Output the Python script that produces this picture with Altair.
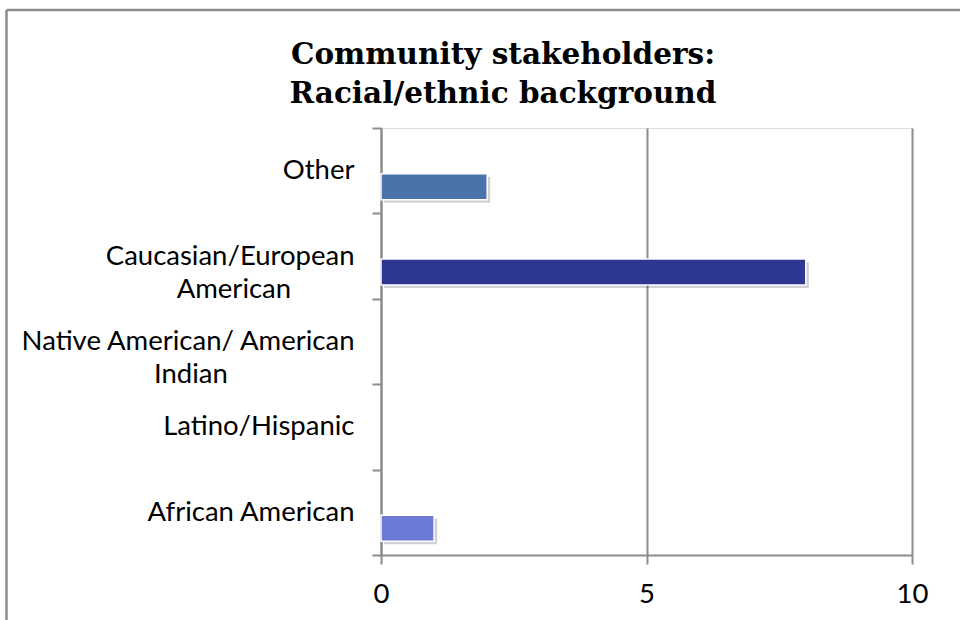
import altair as alt
import pandas as pd

categories = ["Other", "Caucasian/European American", "Native American/ American Indian",
              "Latino/Hispanic", "African American"]
counts = [2, 8, 0, 0, 1]
bar_colors = ["#4A74A9", "#2E3790", "#5A6FCF", "#5A6FCF", "#6C79D5"]
x_ticks = [0, 5, 10]
title_lines = ["Community stakeholders:", "Racial/ethnic background"]

NB = "\u00a0"
WJ = "\u2060"
label_lines = {
    "Caucasian/European American": ["Caucasian/European", "American" + NB * 9 + WJ],
    "Native American/ American Indian": ["Native American/ American", "Indian" + NB * 18 + WJ],
}

df = pd.DataFrame({"category": categories, "count": counts})

expr = "datum.value"
for k, v in label_lines.items():
    arr = "[" + ",".join("'" + s + "'" for s in v) + "]"
    expr = f"datum.value == '{k}' ? {arr} : ({expr})"

GRAY = "#8c8c8c"
FONT = "Lato"

y_enc = alt.Y("category:N", sort=categories,
              scale=alt.Scale(domain=categories, paddingInner=0, paddingOuter=0),
              axis=alt.Axis(title=None, domainColor=GRAY, domainWidth=2,
                            tickColor=GRAY, tickWidth=2, tickSize=9, tickBand="extent",
                            labelFont=FONT, labelFontSize=27.5, labelColor="black",
                            labelPadding=18, labelLineHeight=33, labelExpr=expr,
                            labelLimit=0, grid=False))
x_enc = alt.X("count:Q", scale=alt.Scale(domain=[0, 10], nice=False),
              axis=alt.Axis(title=None, values=x_ticks, domainColor=GRAY, domainWidth=2,
                            tickColor=GRAY, tickWidth=2, tickSize=9, labelFlush=False,
                            labelFont=FONT, labelFontSize=27.5, labelColor="black",
                            labelPadding=16, grid=True, gridColor=GRAY, gridWidth=2))

base = alt.Chart(df).transform_filter(alt.datum.count > 0)

shadow = base.mark_bar(height=26, yOffset=19, xOffset=3, color="#000000", opacity=0.18).encode(
    x=x_enc, y=y_enc)

bars = base.mark_bar(height=26, yOffset=16, stroke="white", strokeWidth=1.5).encode(
    x=x_enc, y=y_enc,
    color=alt.Color("category:N", scale=alt.Scale(domain=categories, range=bar_colors), legend=None))

frame_data = alt.Data(values=[{"k": 1}])
frame_top = alt.Chart(frame_data).mark_rule(color=GRAY, strokeWidth=2.5).encode(
    x=alt.value(-374.5), x2=alt.value(640), y=alt.value(-118))
frame_left = alt.Chart(frame_data).mark_rule(color=GRAY, strokeWidth=2.5).encode(
    x=alt.value(-374.5), y=alt.value(-118), y2=alt.value(520))

title_style = dict(font="DejaVu Serif", fontSize=29.5, fontWeight="bold", color="black",
                   align="center", baseline="alphabetic")
title1 = alt.Chart(frame_data).mark_text(**title_style).encode(
    x=alt.value(122), y=alt.value(-64), text=alt.value(title_lines[0]))
title2 = alt.Chart(frame_data).mark_text(**title_style).encode(
    x=alt.value(122), y=alt.value(-25), text=alt.value(title_lines[1]))

chart = alt.layer(shadow, bars, frame_top, frame_left, title1, title2).properties(
    width=531, height=427,
    padding={"left": 381, "top": 128, "right": 48, "bottom": 65},
    autosize=alt.AutoSizeParams(type="none"),
).configure_view(stroke=None).configure(background="white")

chart.save("out.html", embed_options={"renderer": "svg", "actions": False})
